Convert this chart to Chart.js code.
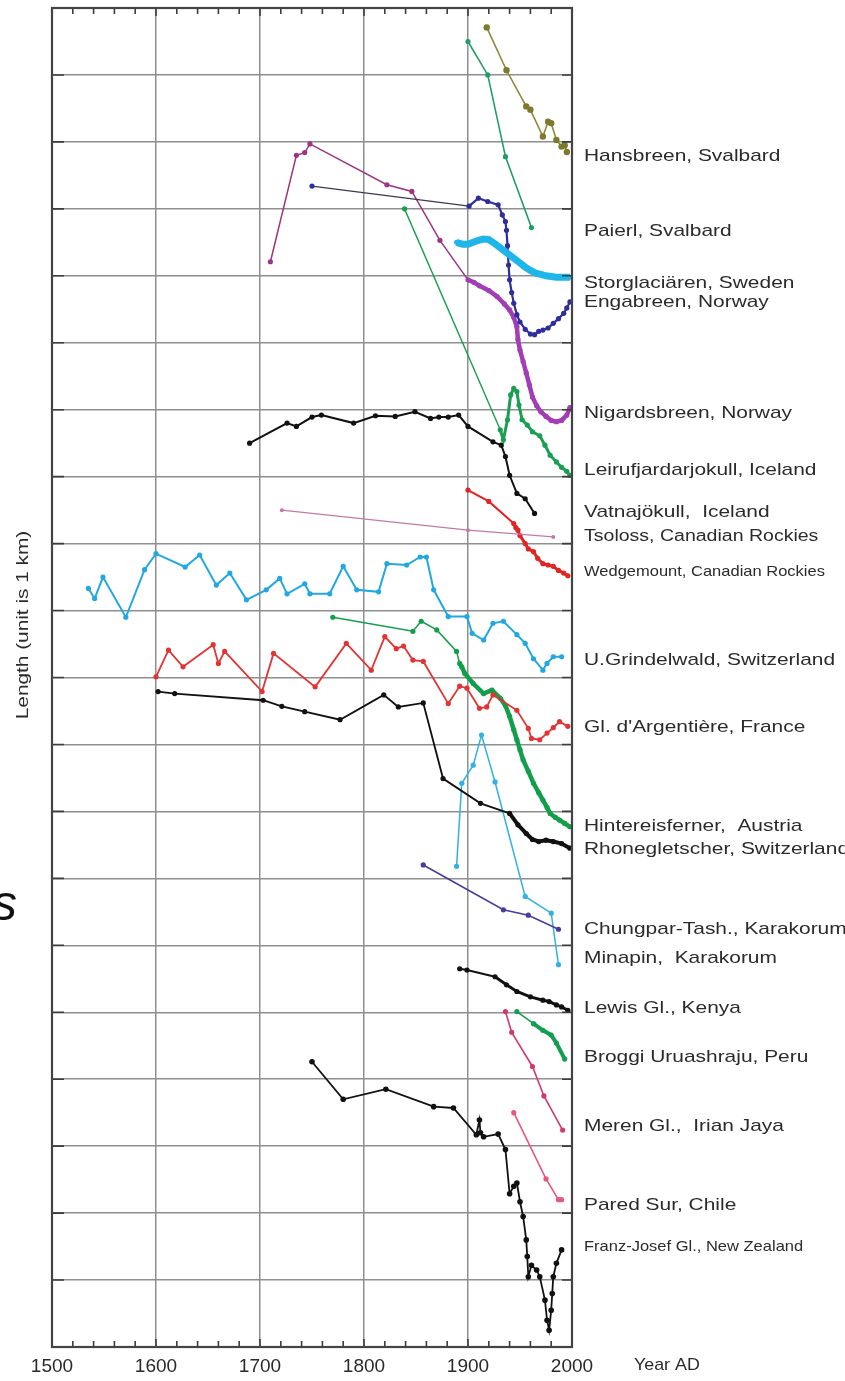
<!DOCTYPE html>
<html>
<head>
<meta charset="utf-8">
<title>Glacier length records</title>
<script src="https://cdn.jsdelivr.net/npm/chart.js@4.4.1/dist/chart.umd.min.js"></script>
<style>
  html, body { margin: 0; padding: 0; background: #ffffff; }
  #wrap { width: 845px; height: 1381px; position: relative; }
  canvas { display: block; }
</style>
</head>
<body>
<div id="wrap"><canvas id="glaciers" width="845" height="1381"></canvas></div>
<script>
// Axis ranges (years AD, stacked length in km)
const yearMin = 1500, yearMax = 2000;
const lengthMin = 0, lengthMax = 20;
const yearTicks = [1500, 1600, 1700, 1800, 1900, 2000];

// Glacier length records: year of observation and plotted length (km, offset per glacier)
const hansbreenYears = [1918, 1937, 1956, 1960, 1972, 1977, 1980, 1985, 1990, 1993, 1995];
const hansbreenLen   = [19.71, 19.07, 18.53, 18.48, 18.08, 18.30, 18.28, 18.03, 17.93, 17.95, 17.85];

const paierlYears = [1900, 1919, 1936, 1961];
const paierlLen   = [19.50, 19.00, 17.78, 16.72];

const storglaciarenYears = [1889, 1895, 1900, 1905, 1910, 1915, 1920, 1925, 1930, 1935, 1940, 1945, 1950, 1955, 1960, 1965, 1970, 1975, 1980, 1985, 1990, 1995, 1998];
const storglaciarenLen   = [16.50, 16.47, 16.47, 16.50, 16.53, 16.55, 16.54, 16.49, 16.43, 16.37, 16.31, 16.25, 16.19, 16.13, 16.08, 16.04, 16.02, 16.00, 15.99, 15.98, 15.98, 15.98, 15.98];

const engabreenYears = [1750, 1901, 1910, 1919, 1929, 1933, 1936, 1937, 1938, 1939, 1940, 1942, 1944, 1947, 1950, 1955, 1960, 1964, 1968, 1972, 1977, 1982, 1987, 1992, 1995, 1998];
const engabreenLen   = [17.34, 17.04, 17.16, 17.11, 17.06, 16.91, 16.81, 16.68, 16.45, 16.16, 15.94, 15.75, 15.59, 15.42, 15.31, 15.20, 15.13, 15.12, 15.17, 15.19, 15.22, 15.29, 15.36, 15.44, 15.52, 15.61];

const nigardsbreenYears = [1710, 1735, 1743, 1748, 1822, 1846, 1873, 1900, 1906, 1911, 1920, 1928, 1935, 1940, 1944, 1947, 1948, 1950, 1953, 1956, 1959, 1962, 1966, 1970, 1975, 1980, 1985, 1990, 1995, 1998];
const nigardsbreenLen   = [16.21, 17.80, 17.84, 17.97, 17.36, 17.26, 16.53, 15.94, 15.90, 15.85, 15.78, 15.69, 15.58, 15.49, 15.38, 15.24, 15.05, 14.89, 14.72, 14.55, 14.37, 14.19, 14.06, 13.97, 13.90, 13.84, 13.82, 13.84, 13.92, 14.03];

const leirufjYears = [1839, 1931, 1934, 1938, 1941, 1944, 1947, 1949, 1952, 1957, 1962, 1969, 1974, 1979, 1985, 1990, 1995, 1998];
const leirufjLen   = [17.00, 13.70, 13.55, 13.85, 14.22, 14.32, 14.27, 14.07, 13.85, 13.77, 13.67, 13.61, 13.47, 13.32, 13.22, 13.14, 13.08, 13.02];

const vatnajokullYears = [1690, 1726, 1735, 1750, 1759, 1790, 1811, 1830, 1849, 1864, 1872, 1881, 1891, 1900, 1924, 1932, 1936, 1940, 1947, 1955, 1964];
const vatnajokullLen   = [13.50, 13.80, 13.75, 13.89, 13.92, 13.80, 13.91, 13.90, 13.97, 13.87, 13.89, 13.89, 13.92, 13.75, 13.52, 13.47, 13.30, 13.02, 12.75, 12.67, 12.45];

const tsolossYears = [1721, 1900, 1982];
const tsolossLen   = [12.50, 12.20, 12.10];

const wedgemountYears = [1900, 1920, 1944, 1946, 1948, 1950, 1955, 1958, 1963, 1967, 1972, 1977, 1982, 1987, 1992, 1996];
const wedgemountLen   = [12.80, 12.63, 12.30, 12.24, 12.20, 12.12, 12.00, 11.92, 11.88, 11.78, 11.70, 11.68, 11.66, 11.60, 11.56, 11.52];

const grindelwaldYears = [1535, 1541, 1549, 1571, 1589, 1600, 1628, 1642, 1658, 1671, 1687, 1706, 1719, 1726, 1743, 1748, 1767, 1780, 1793, 1814, 1822, 1841, 1854, 1860, 1867, 1881, 1899, 1904, 1915, 1924, 1934, 1947, 1955, 1963, 1972, 1976, 1982, 1990];
const grindelwaldLen   = [11.33, 11.18, 11.50, 10.90, 11.61, 11.85, 11.65, 11.83, 11.38, 11.56, 11.16, 11.31, 11.48, 11.25, 11.40, 11.25, 11.25, 11.66, 11.31, 11.28, 11.70, 11.68, 11.80, 11.80, 11.31, 10.91, 10.91, 10.66, 10.56, 10.81, 10.84, 10.64, 10.51, 10.28, 10.11, 10.21, 10.31, 10.31];

const argentiereYears = [1600, 1612, 1626, 1655, 1660, 1666, 1702, 1713, 1753, 1783, 1807, 1820, 1831, 1838, 1847, 1857, 1881, 1892, 1899, 1911, 1918, 1924, 1947, 1958, 1961, 1969, 1976, 1982, 1988, 1996];
const argentiereLen   = [10.01, 10.41, 10.16, 10.49, 10.21, 10.39, 9.79, 10.36, 9.86, 10.51, 10.11, 10.61, 10.43, 10.47, 10.26, 10.24, 9.61, 9.87, 9.84, 9.54, 9.56, 9.74, 9.51, 9.24, 9.09, 9.07, 9.17, 9.25, 9.34, 9.27];

const hintereisYears = [1770, 1847, 1855, 1870, 1889, 1892, 1894, 1897, 1905, 1915, 1923, 1931, 1936, 1940, 1944, 1947, 1950, 1953, 1958, 1963, 1968, 1972, 1976, 1979, 1984, 1988, 1993, 1998];
const hintereisLen   = [10.90, 10.69, 10.84, 10.71, 10.39, 10.21, 10.16, 10.06, 9.91, 9.76, 9.81, 9.69, 9.58, 9.42, 9.22, 9.07, 8.92, 8.77, 8.60, 8.42, 8.28, 8.17, 8.06, 7.97, 7.91, 7.87, 7.82, 7.77];

const rhoneYears = [1602, 1618, 1703, 1721, 1743, 1777, 1819, 1833, 1857, 1876, 1912, 1940, 1948, 1956, 1962, 1968, 1975, 1982, 1990, 1998];
const rhoneLen   = [9.79, 9.76, 9.66, 9.57, 9.49, 9.37, 9.74, 9.56, 9.62, 8.49, 8.12, 7.97, 7.80, 7.67, 7.58, 7.55, 7.57, 7.55, 7.52, 7.45];

const chungparYears = [1857, 1934, 1958, 1987];
const chungparLen   = [7.20, 6.53, 6.45, 6.24];

const minapinYears = [1889, 1894, 1905, 1913, 1926, 1955, 1980, 1987];
const minapinLen   = [7.18, 8.42, 8.69, 9.14, 8.44, 6.73, 6.48, 5.71];

const lewisYears = [1892, 1899, 1926, 1937, 1947, 1960, 1972, 1978, 1985, 1990, 1996];
const lewisLen   = [5.65, 5.63, 5.53, 5.41, 5.31, 5.23, 5.18, 5.16, 5.11, 5.08, 5.03];

const broggiYears = [1947, 1963, 1972, 1980, 1985, 1993];
const broggiLen   = [5.01, 4.83, 4.73, 4.66, 4.54, 4.30];

const merenYears = [1936, 1942, 1962, 1973, 1991];
const merenLen   = [5.01, 4.70, 4.19, 3.75, 3.24];

const paredYears = [1944, 1975, 1987, 1990];
const paredLen   = [3.50, 2.51, 2.20, 2.20];

const franzJosefYears = [1750, 1780, 1821, 1867, 1886, 1908, 1911, 1912, 1915, 1929, 1936, 1940, 1944, 1947, 1950, 1953, 1956, 1957, 1958, 1961, 1966, 1969, 1974, 1976, 1978, 1980, 1981, 1982, 1985, 1990];
const franzJosefLen   = [4.26, 3.70, 3.85, 3.59, 3.57, 3.17, 3.39, 3.20, 3.14, 3.18, 2.95, 2.29, 2.40, 2.45, 2.17, 1.95, 1.60, 1.35, 1.05, 1.22, 1.15, 1.05, 0.70, 0.40, 0.25, 0.55, 0.80, 1.05, 1.25, 1.45];

// Glacier names printed beside the right edge, with the length level each name sits at
const glacierNames = [
  'Hansbreen, Svalbard', 'Paierl, Svalbard', 'Storglaciären, Sweden', 'Engabreen, Norway',
  'Nigardsbreen, Norway', 'Leirufjardarjokull, Iceland', 'Vatnajökull,  Iceland',
  'Tsoloss, Canadian Rockies', 'Wedgemount, Canadian Rockies', 'U.Grindelwald, Switzerland',
  "Gl. d'Argentière, France", 'Hintereisferner,  Austria', 'Rhonegletscher, Switzerland',
  'Chungpar-Tash., Karakorum', 'Minapin,  Karakorum', 'Lewis Gl., Kenya',
  'Broggi Uruashraju, Peru', 'Meren Gl.,  Irian Jaya', 'Pared Sur, Chile',
  'Franz-Josef Gl., New Zealand'
];
const nameLevels = [17.79, 16.67, 15.89, 15.61, 13.95, 13.10, 12.46, 12.10, 11.58, 10.26,
                    9.26, 7.78, 7.44, 6.24, 5.80, 5.06, 4.33, 3.30, 2.12, 1.49];

function pts(xs, ys) { return xs.map((x, i) => ({ x: x, y: ys[i] })); }

function series(label, xs, ys, color, extra) {
  return Object.assign({
    label: label,
    data: pts(xs, ys),
    borderColor: color,
    backgroundColor: color,
    borderWidth: 1.6,
    pointRadius: 2.6,
    pointHoverRadius: 2.6,
    pointBorderWidth: 0,
    tension: 0,
    fill: false
  }, extra || {});
}

// thicker line for the densely sampled part of a record
function thickAfter(year, thin, thick) {
  return { borderWidth: ctx => (ctx.p0.parsed.x >= year ? thick : thin) };
}

const datasets = [
  series('Hansbreen', hansbreenYears, hansbreenLen, '#8c8a3c', { pointBackgroundColor: '#7d7a2e', pointRadius: 3.2 }),
  series('Paierl', paierlYears, paierlLen, '#1f9e68'),
  series('Storglaciären', storglaciarenYears, storglaciarenLen, '#1fb6ea', { borderWidth: 7, pointRadius: 2.5 }),
  series('Engabreen', engabreenYears, engabreenLen, '#2e2e9c', {
    segment: { borderColor: ctx => (ctx.p0.parsed.x < 1800 ? '#3a3a55' : '#2e2e9c'),
               borderWidth: ctx => (ctx.p0.parsed.x < 1800 ? 1.3 : 2.2) }
  }),
  series('Nigardsbreen', nigardsbreenYears, nigardsbreenLen, '#a23db5', {
    segment: { borderColor: ctx => (ctx.p0.parsed.x < 1895 ? '#9c3583' : '#a23db5'),
               borderWidth: ctx => (ctx.p0.parsed.x < 1895 ? 1.5 : 4.5) },
    pointBackgroundColor: ctx => (ctx.raw && ctx.raw.x < 1895 ? '#9c3583' : '#a23db5')
  }),
  series('Leirufjardarjokull', leirufjYears, leirufjLen, '#1a9e52', {
    segment: thickAfter(1930, 1.4, 3)
  }),
  series('Vatnajökull', vatnajokullYears, vatnajokullLen, '#111111', { borderWidth: 2 }),
  series('Tsoloss', tsolossYears, tsolossLen, '#c47aa6', { borderWidth: 1.3, pointRadius: 2 }),
  series('Wedgemount', wedgemountYears, wedgemountLen, '#e12424', { segment: thickAfter(1940, 2, 3) }),
  series('U.Grindelwald', grindelwaldYears, grindelwaldLen, '#22a8e0', { borderWidth: 2 }),
  series("Gl. d'Argentière", argentiereYears, argentiereLen, '#e23434', { borderWidth: 1.8 }),
  series('Hintereisferner', hintereisYears, hintereisLen, '#139e4c', { segment: thickAfter(1890, 1.5, 4.5) }),
  series('Rhonegletscher', rhoneYears, rhoneLen, '#111111', { segment: thickAfter(1940, 1.8, 4) }),
  series('Chungpar-Tash.', chungparYears, chungparLen, '#4a3c9c'),
  series('Minapin', minapinYears, minapinLen, '#31b2e2', { borderWidth: 1.5 }),
  series('Lewis Gl.', lewisYears, lewisLen, '#111111', { segment: thickAfter(1920, 2, 3) }),
  series('Broggi Uruashraju', broggiYears, broggiLen, '#139e52', { segment: thickAfter(1960, 1.6, 4) }),
  series('Meren Gl.', merenYears, merenLen, '#d23a6e'),
  series('Pared Sur', paredYears, paredLen, '#e8587e'),
  series('Franz-Josef Gl.', franzJosefYears, franzJosefLen, '#111111', { borderWidth: 1.8, pointRadius: 2.8 })
];

// frame, inward tick marks and the text around the plot
const framePlugin = {
  id: 'frame',
  afterDatasetsDraw(chart) {
    const { ctx, chartArea: a, scales } = chart;
    const xs = scales.x, ys = scales.y;
    ctx.save();
    ctx.strokeStyle = '#3d3d3d';
    ctx.lineWidth = 1.6;
    // minor year ticks every 20 years, top and bottom
    for (let yr = yearMin; yr <= yearMax; yr += 20) {
      const px = xs.getPixelForValue(yr);
      const len = yr % 100 === 0 ? 8 : 6;
      ctx.beginPath();
      ctx.moveTo(px, a.bottom); ctx.lineTo(px, a.bottom - len);
      ctx.moveTo(px, a.top); ctx.lineTo(px, a.top + len);
      ctx.stroke();
    }
    // km ticks on left and right edges
    for (let v = lengthMin; v <= lengthMax; v += 1) {
      const py = ys.getPixelForValue(v);
      ctx.beginPath();
      ctx.moveTo(a.left, py); ctx.lineTo(a.left + 12, py);
      ctx.moveTo(a.right, py); ctx.lineTo(a.right - 10, py);
      ctx.stroke();
    }
    ctx.lineWidth = 2.2;
    ctx.strokeStyle = '#444444';
    ctx.strokeRect(a.left, a.top, a.right - a.left, a.bottom - a.top);
    ctx.restore();
  },
  afterDraw(chart) {
    const { ctx, chartArea: a, scales } = chart;
    const ys = scales.y;
    const wide = ['Tsoloss, Canadian Rockies'];
    const narrow = ['Wedgemount, Canadian Rockies', 'Franz-Josef Gl., New Zealand'];
    ctx.save();
    ctx.fillStyle = '#2b2b2b';
    ctx.textBaseline = 'middle';
    ctx.textAlign = 'left';
    glacierNames.forEach((name, i) => {
      let size = 17, sx = 1.23;
      if (wide.includes(name)) { size = 16; sx = 1.22; }
      if (narrow.includes(name)) { size = 15; sx = 1.1; }
      ctx.save();
      ctx.translate(a.right + 12, ys.getPixelForValue(nameLevels[i]));
      ctx.scale(sx, 1);
      ctx.font = size + 'px "Liberation Sans", Arial, sans-serif';
      ctx.fillText(name, 0, 0);
      ctx.restore();
    });
    // x axis caption
    ctx.save();
    ctx.translate(a.right + 62, a.bottom + 18);
    ctx.scale(1.05, 1);
    ctx.font = '17px "Liberation Sans", Arial, sans-serif';
    ctx.fillText('Year AD', 0, 0);
    ctx.restore();
    // y axis caption
    ctx.save();
    ctx.translate(24, 625);
    ctx.rotate(-Math.PI / 2);
    ctx.scale(1.3, 1);
    ctx.textAlign = 'center';
    ctx.font = '16px "Liberation Sans", Arial, sans-serif';
    ctx.fillText('Length (unit is 1 km)', 0, 0);
    ctx.restore();
    // stray letter at the left margin
    ctx.fillStyle = '#111111';
    ctx.textBaseline = 'alphabetic';
    ctx.font = 'italic 50px "Liberation Sans", Arial, sans-serif';
    ctx.fillText('s', -8, 920);
    ctx.restore();
  }
};

new Chart(document.getElementById('glaciers'), {
  type: 'line',
  data: { datasets: datasets },
  options: {
    responsive: false,
    animation: false,
    devicePixelRatio: 1,
    layout: { padding: { left: 0, right: 273, top: 8, bottom: 0 } },
    plugins: { legend: { display: false }, tooltip: { enabled: false } },
    scales: {
      x: {
        type: 'linear',
        min: yearMin, max: yearMax,
        afterFit: s => { s.height = 34; },
        afterBuildTicks: s => { s.ticks = yearTicks.map(v => ({ value: v })); },
        ticks: {
          color: '#2a2a2a',
          padding: 8,
          maxRotation: 0,
          autoSkip: false,
          font: { family: '"Liberation Sans", Arial, sans-serif', size: 19 },
          callback: v => String(v)
        },
        grid: { color: '#8f8f8f', lineWidth: 1.5, drawTicks: false },
        border: { display: true, color: '#444444', width: 2 }
      },
      y: {
        type: 'linear',
        min: lengthMin, max: lengthMax,
        afterFit: s => { s.width = 52; },
        ticks: { display: false, stepSize: 1 },
        grid: { color: '#8f8f8f', lineWidth: 1.5, drawTicks: false },
        border: { display: true, color: '#444444', width: 2 }
      }
    }
  },
  plugins: [framePlugin]
});
</script>
</body>
</html>
